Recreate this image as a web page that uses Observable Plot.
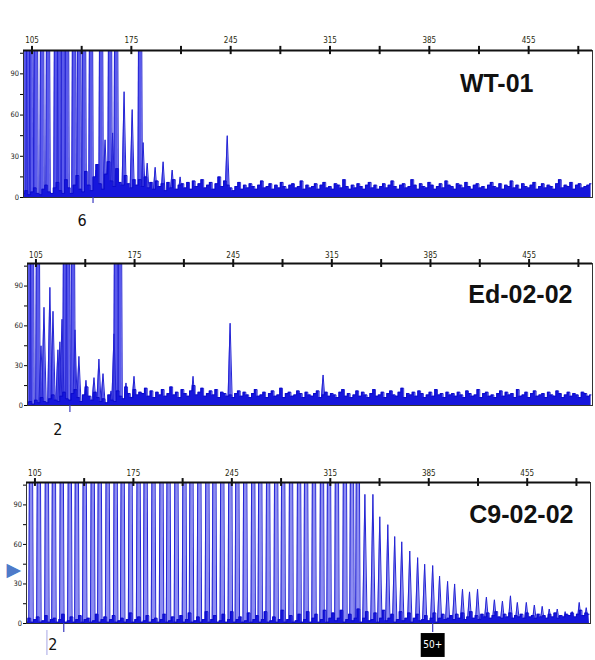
<!DOCTYPE html>
<html><head><meta charset="utf-8">
<script src="https://cdn.jsdelivr.net/npm/d3@7"></script>
<script src="https://cdn.jsdelivr.net/npm/@observablehq/plot@0.6"></script>
<style>
body{margin:0;background:#fff}
#wrap{position:relative;width:595px;height:660px;overflow:hidden;background:#fff}
.pn{position:absolute;left:0}
</style></head><body><div id="wrap"></div>
<script>
// ---------- shared axis values ----------
const majorTicks = [105,175,245,315,385,455];
const minorTicks = [140,210,280,350,420,490];
const yTicks = [0,15,30,45,60,75,90,105];
const yTickLabels = [0,30,60,90];
const OFF = 400;            // off-scale (clipped) peak
const noiseStartBp = 99, noiseStepBp = 2;

// ---------- WT-01 ----------
const wtTitle = "WT-01";
const wtPeakBp = [100.1,102.2,104.6,107.8,112.1,116.3,121.9,124.1,126.9,129.7,134.6,138.2,141.7,146.6,150.2,153.7,156.5,160.0,161.8,164.3,169.9,175.6,181.2,183.3,186.2,191.8,197.4,203.8,209.4,242.6];
const wtPeakHeight = [OFF,OFF,OFF,OFF,OFF,OFF,OFF,OFF,OFF,OFF,OFF,OFF,OFF,OFF,20,OFF,42,OFF,47,OFF,77,64,OFF,40,25,22,26,20,15,45];
const wtNoise = [
 3,5,2,4,7,3,2,6,9,4,3,7,11,5,3,13,7,3,9,16,6,4,19,9,5,15,24,10,6,17,26,12,8,21,11,9,16,10,7,13,9,13,8,15,7,11,6,12,8,10,5,
 11,7,13,6,9,10,7,11,6,12,8,10,13,7,9,11,6,10,15,8,12,9,7,5,8,11,6,9,7,10,8,6,9,12,7,8,10,6,9,7,11,8,6,9,10,7,8,12,6,9,
 7,8,10,6,9,11,7,8,6,10,9,7,13,8,6,9,7,10,8,6,9,11,7,9,6,8,10,7,9,12,8,6,9,10,7,8,13,9,6,10,8,7,11,9,6,8,10,7,12,9,
 8,6,10,9,7,11,8,6,9,10,7,8,6,9,11,8,7,10,6,9,8,12,7,9,6,10,8,7,9,11,6,8,10,7,9,8,6,10,13,7,9,8,11,6,9,10,7,8,9,10];
const wtMarkBp = [148.0];
const wtLabelBp = [140.3];
const wtLabelText = ["6"];

// ---------- Ed-02-02 ----------
const edTitle = "Ed-02-02";
const edPeakBp = [100.0,102.2,106.4,108.6,110.7,114.9,117.1,120.6,122.0,123.5,125.6,127.7,131.3,132.7,135.5,140.5,146.2,149.7,152.6,158.3,160.4,161.8,164.7,168.9,174.6,216.5,242.8,308.8];
const edPeakHeight = [OFF,OFF,OFF,45,74,89,71,42,48,65,OFF,OFF,OFF,57,37,19,21,35,24,11,54,OFF,OFF,17,22,22,62,23];
const edNoise = [
 2,3,1,4,2,6,3,2,5,8,4,3,7,10,5,4,9,12,6,3,8,14,7,4,10,6,3,5,2,8,4,3,11,7,5,14,9,6,12,8,10,9,13,7,11,6,10,8,12,7,9,
 14,8,10,6,12,9,7,11,15,8,10,13,7,9,11,8,12,6,10,9,7,8,6,9,11,7,10,8,6,9,12,7,8,10,6,9,11,7,8,13,6,9,10,7,8,11,9,6,10,8,
 7,9,11,6,8,10,7,9,8,6,10,12,7,9,6,8,11,7,10,8,6,9,12,7,8,10,6,9,11,8,7,10,13,6,9,8,10,7,11,9,6,8,10,7,12,8,9,6,10,8,
 9,7,10,8,6,11,9,7,8,12,6,9,10,7,8,6,9,11,7,10,8,9,6,12,7,8,10,6,9,11,7,8,9,6,10,8,7,11,9,6,8,10,7,9,8,6,10,9,7,8];
const edMarkBp = [129.1];
const edLabelBp = [120.6];
const edLabelText = ["2"];

// ---------- C9-02-02 ----------
const c9Title = "C9-02-02";
const c9PeakBp = [102.2,107.8,113.5,118.5,124.1,129.8,134.8,140.4,146.1,151.1,156.7,162.4,167.4,173.0,178.7,183.7,189.3,195.0,200.0,205.6,211.3,216.3,221.9,227.6,232.6,238.2,243.9,248.9,254.5,260.2,265.2,270.8,276.5,281.5,287.1,292.8,297.8,303.4,309.1,314.1,319.7,325.4,330.4,334.6,
 339.6,345.3,350.2,355.9,360.8,365.8,371.5,377.1,382.1,387.8,392.7,398.4,403.4,409.0,414.0,419.7,426.0,431.7,437.4,443.1,448.0,454.4,460.1,465.7,470.7,476.4,482.0,487.0,492.0,497.0];
const c9PeakHeight = [OFF,OFF,OFF,OFF,OFF,OFF,OFF,OFF,OFF,OFF,OFF,OFF,OFF,OFF,OFF,OFF,OFF,OFF,OFF,OFF,OFF,OFF,OFF,OFF,OFF,OFF,OFF,OFF,OFF,OFF,OFF,OFF,OFF,OFF,OFF,OFF,OFF,OFF,OFF,OFF,OFF,OFF,OFF,OFF,
 98,98,81,75,66,62,55,50,45,44,36,32,30,26,24,26,20,18,17,21,16,16,14,13,11,11,9,9,16,12];
const c9Noise = [
 1,4,1,3,5,1,2,6,1,3,4,1,3,7,1,2,5,1,3,6,1,3,4,1,2,7,1,3,5,1,3,6,1,2,4,1,3,8,1,3,5,1,2,6,1,3,4,1,3,7,1,
 2,5,1,3,6,1,3,8,1,2,5,1,3,9,1,3,6,1,2,7,1,3,9,1,3,5,1,2,8,1,3,6,1,3,9,1,2,5,1,3,10,1,3,6,1,2,7,1,3,9,
 1,4,7,1,3,10,1,4,8,2,4,10,1,3,7,2,4,11,1,4,9,2,3,8,1,4,10,2,4,7,1,3,9,2,4,8,1,4,7,2,3,6,2,4,8,1,4,7,3,4,
 6,3,7,4,8,3,5,9,4,6,3,7,5,8,4,6,9,5,4,7,5,8,4,6,5,7,4,8,5,6,4,7,5,6,4,7,5,8,4,6,5,7,6,8,5,7,10,6,8,7];
const c9MarkBp = [125.5, 387.8];
const c9LabelBp = [117.8];
const c9LabelText = ["2"];
const c9BoxBp = [387.8];
const c9BoxText = ["50+"];
const c9CursorBp = [113.5];

// ---------- drawing ----------
const X_DOMAIN = [99, 500], Y_MAX = 107;
const tickFont = "'Liberation Sans Narrow','DejaVu Sans Condensed','Arial Narrow',sans-serif";
const PEAK_HW = 1.6;

function peakShapes(bp, h) {
  return bp.flatMap((p, i) => [
    {x: p - PEAK_HW, y: 0, id: i},
    {x: p, y: h[i], id: i},
    {x: p + PEAK_HW, y: 0, id: i}
  ]);
}
function noiseSeries(vals) {
  return vals.map((v, i) => ({x: noiseStartBp + i * noiseStepBp, y: v}));
}

function panel(c) {
  const pk = peakShapes(c.peakBp, c.peakH);
  const nz = noiseSeries(c.noise);
  const allTicks = majorTicks.concat(minorTicks);
  const marks = [
    Plot.areaY(pk, {x: "x", y: "y", z: "id", fill: c.peakFill, clip: true}),
    Plot.lineY(pk, {x: "x", y: "y", z: "id", stroke: "#2424d4", strokeWidth: 1, clip: true}),
    Plot.areaY(nz, {x: "x", y: "y", fill: "#1616dc", curve: "step", clip: true}),
    Plot.lineY(nz, {x: "x", y: "y", stroke: "#0a0ac8", strokeWidth: 0.8, curve: "step", clip: true}),
    Plot.frame({stroke: "#333", strokeWidth: 1}),
    Plot.ruleY([Y_MAX], {stroke: "#111", strokeWidth: 2}),
    Plot.ruleX(allTicks, {x: d => d, y1: Y_MAX - 3, y2: Y_MAX + 3, stroke: "#111", strokeWidth: 2}),
    Plot.axisX(majorTicks, {anchor: "top", label: null, tickSize: 0, tickPadding: c.labPad, fontSize: 8, fill: "#2a2a10", fontFamily: tickFont}),
    Plot.axisY(yTicks, {anchor: "left", label: null, tickSize: 3, tickPadding: 1.5, fontSize: 7.5, fill: "#222", fontFamily: tickFont,
      tickFormat: d => yTickLabels.includes(d) ? String(d) : ""}),
    Plot.axisX(c.markBp, {anchor: "bottom", label: null, tickSize: c.markLen, stroke: "#3a3ac0", strokeWidth: 1.2, tickFormat: () => ""}),
    Plot.text(c.labelText, {x: (d, i) => c.labelBp[i], text: d => d, frameAnchor: "bottom", dy: c.labelDy,
      fontSize: 16, fontFamily: tickFont, fill: "#111", lineAnchor: "middle"}),
    Plot.text([c.title], {text: d => d, frameAnchor: "top-right", textAnchor: "end", lineAnchor: "middle",
      dx: c.titleDx, dy: c.titleDy, fontSize: 25, fontWeight: "bold", fill: "#111",
      fontFamily: "'Liberation Sans',Arial,sans-serif"})
  ];
  if (c.extra) marks.push(...c.extra);
  return Plot.plot({
    width: 595, height: c.height,
    marginTop: c.mt, marginBottom: c.mb, marginLeft: c.ml, marginRight: c.mr,
    x: {domain: X_DOMAIN, axis: null},
    y: {domain: [0, Y_MAX], axis: null},
    style: {background: "transparent", overflow: "visible"},
    marks
  });
}

const wrap = document.getElementById("wrap");
function place(svg, top) {
  const d = document.createElement("div");
  d.className = "pn"; d.style.top = top + "px";
  d.appendChild(svg); wrap.appendChild(d);
}

place(panel({title: wtTitle, peakBp: wtPeakBp, peakH: wtPeakHeight, noise: wtNoise, peakFill: "#5a5aec",
  markBp: wtMarkBp, markLen: 6, labelBp: wtLabelBp, labelText: wtLabelText, labelDy: 23,
  height: 230, mt: 50, mb: 33, ml: 23, mr: 3, titleDx: -59, titleDy: 33, labPad: 8}), 0);

place(panel({title: edTitle, peakBp: edPeakBp, peakH: edPeakHeight, noise: edNoise, peakFill: "#5a5aec",
  markBp: edMarkBp, markLen: 7, labelBp: edLabelBp, labelText: edLabelText, labelDy: 24,
  height: 215, mt: 48, mb: 25, ml: 27, mr: 3, titleDx: -20, titleDy: 31, labPad: 6}), 215);

place(panel({title: c9Title, peakBp: c9PeakBp, peakH: c9PeakHeight, noise: c9Noise, peakFill: "#8c8cf2",
  markBp: c9MarkBp, markLen: 9, labelBp: c9LabelBp, labelText: c9LabelText, labelDy: 21,
  height: 220, mt: 42, mb: 37, ml: 26, mr: 5, titleDx: -17, titleDy: 32, labPad: 7,
  extra: [
    Plot.axisX(c9CursorBp, {anchor: "bottom", label: null, tickSize: 25, dy: 7, stroke: "#c4c4ee", strokeWidth: 1.5, tickFormat: () => ""}),
    Plot.dot(c9BoxBp, {x: d => d, frameAnchor: "bottom", dy: 21.5, symbol: "square", r: 13.5, fill: "#000"}),
    Plot.text(c9BoxText, {x: (d, i) => c9BoxBp[i], text: d => d, frameAnchor: "bottom", dy: 21.5, fill: "#fff",
      fontSize: 10, fontFamily: tickFont, lineAnchor: "middle"}),
    Plot.text(["\u25B6"], {text: d => d, frameAnchor: "left", dx: -20, dy: 16.5, fontSize: 19, fill: "#4e7ac9",
      fontFamily: "'DejaVu Sans',sans-serif", lineAnchor: "middle"})
  ]}), 440);
</script></body></html>
